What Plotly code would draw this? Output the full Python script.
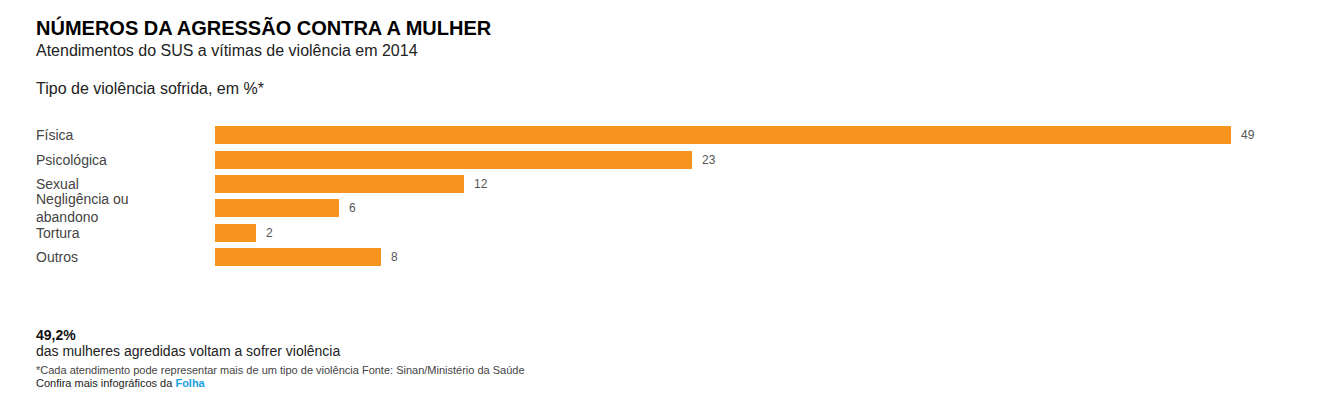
import plotly.graph_objects as go

categories = ["Física", "Psicológica", "Sexual", "Negligência ou<br>abandono", "Tortura", "Outros"]
values = [49, 23, 12, 6, 2, 8]

OFF = 8  # default page body margin
W, H = 1341 - OFF, 393 - OFF
L, R = 215 - OFF, 110
T, B = 123 - OFF, 124
pw = W - L - R
ph = H - T - B

def px(x):
    return (x - OFF - L) / pw

def py(y):
    return (H - B - (y - OFF)) / ph

FONT = "Liberation Sans, Arial, sans-serif"
ORANGE = "#F7941D"

fig = go.Figure()
fig.add_trace(go.Bar(
    x=values, y=categories, orientation="h",
    marker=dict(color=ORANGE, line=dict(width=0)),
    width=0.74, hoverinfo="skip",
))

annotations = []
for c, v in zip(categories, values):
    annotations.append(dict(
        x=px(34), xref="paper", y=c, yref="y", text=c, showarrow=False,
        xanchor="left", yanchor="middle", align="left",
        font=dict(family=FONT, size=14, color="#444444"),
    ))
    annotations.append(dict(
        x=v, xref="x", y=c, yref="y", text=str(v), showarrow=False,
        xanchor="left", yanchor="middle", xshift=8,
        font=dict(family=FONT, size=12, color="#555555"),
    ))

def txt(x, y, s, size, color="#333333"):
    annotations.append(dict(
        x=px(x), xref="paper", y=py(y), yref="paper", text=s, showarrow=False,
        xanchor="left", yanchor="middle", align="left",
        font=dict(family=FONT, size=size, color=color),
    ))

txt(34, 27, "<b>NÚMEROS DA AGRESSÃO CONTRA A MULHER</b>", 20, "#000000")
txt(34, 50, "Atendimentos do SUS a vítimas de violência em 2014", 16, "#222222")
txt(34, 88, "Tipo de violência sofrida, em %*", 16, "#222222")
txt(34, 335, "<b>49,2%</b>", 14, "#111111")
txt(34, 351, "das mulheres agredidas voltam a sofrer violência", 14, "#222222")
txt(34, 370, "*Cada atendimento pode representar mais de um tipo de violência Fonte: Sinan/Ministério da Saúde", 11, "#444444")
txt(34, 383, "Confira mais infográficos da <b><span style='color:#1A9FE0'>Folha</span></b>", 11, "#222222")

fig.update_layout(
    width=W, height=H,
    margin=dict(l=L, r=R, t=T, b=B),
    paper_bgcolor="white", plot_bgcolor="white",
    showlegend=False,
    bargap=0,
    xaxis=dict(range=[0, 49], visible=False, fixedrange=True),
    yaxis=dict(categoryorder="array", categoryarray=categories,
               range=[5.5, -0.5], showticklabels=False, showgrid=False, zeroline=False,
               fixedrange=True),
    annotations=annotations,
)

fig.write_html("out.html", config={"displayModeBar": False})
